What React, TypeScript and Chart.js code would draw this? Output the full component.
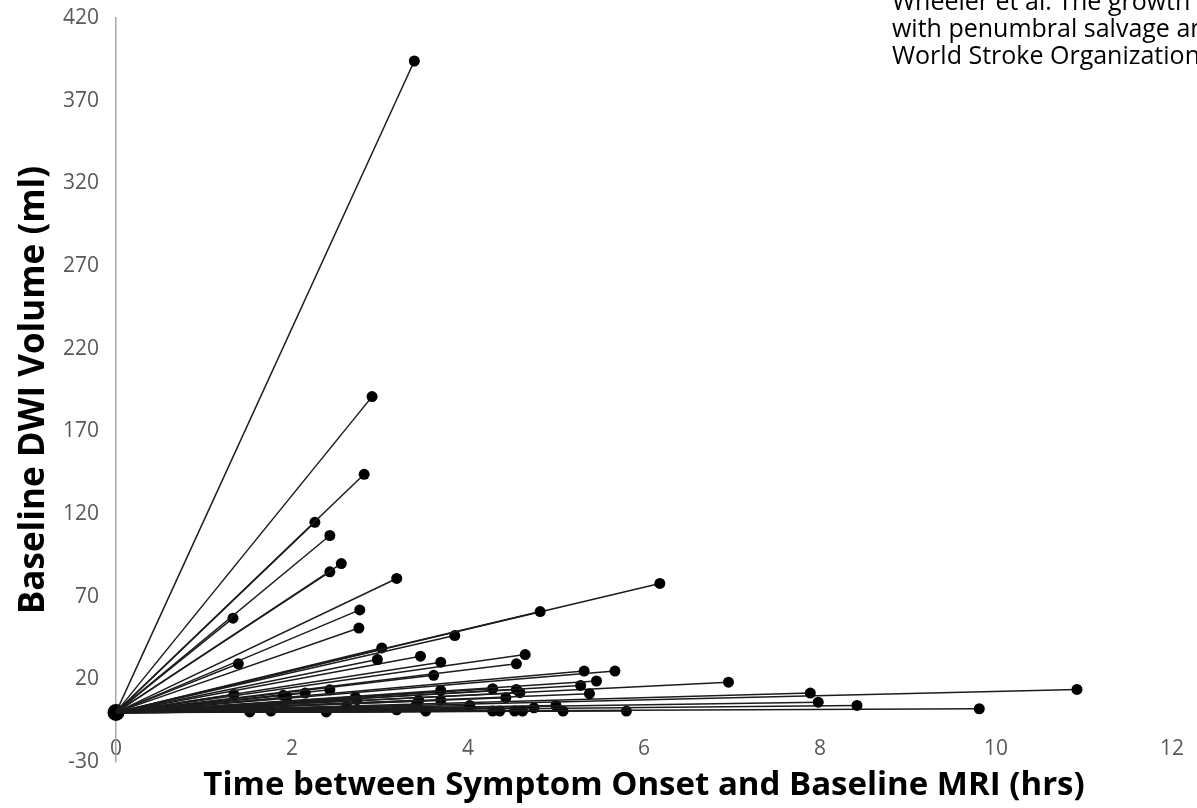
import React, { useEffect, useRef } from "react";
import { Chart, registerables } from "chart.js";

Chart.register(...registerables);

// Time between symptom onset and baseline MRI (hrs), one entry per patient
const onsetHours = [
  3.39, 2.91, 2.82, 2.26, 2.43, 2.56, 2.43, 3.19, 1.33, 2.77,
  2.76, 4.82, 6.18, 3.85, 1.39, 3.02, 2.97, 3.46, 3.69, 4.65,
  4.55, 3.61, 5.32, 5.67, 5.46, 5.28, 5.38, 6.96, 7.89, 7.98,
  8.42, 9.81, 10.92, 3.69, 4.28, 4.55, 4.59, 4.43, 3.69, 4.02,
  5.0, 3.52, 4.28, 4.36, 4.53, 4.62, 4.75, 5.08, 5.8, 3.44,
  1.34, 1.9, 1.94, 2.15, 2.43, 2.72, 1.52, 1.76, 2.39, 3.19,
  2.74, 2.62, 3.41,
];

// Baseline DWI volume (ml), same order as onsetHours
const dwiVolumes = [
  394, 191, 144, 115, 107, 90, 85, 81, 57, 62,
  51, 61, 78, 46.5, 29.4, 39, 32, 34, 30.4, 35,
  29.4, 22.4, 25, 25, 19, 16.3, 11.3, 18.3, 11.7, 6.2,
  4.2, 2.2, 13.9, 13.3, 14.3, 13.9, 11.9, 8.9, 7.3, 4.2,
  4.2, 0.8, 0.8, 0.8, 0.8, 0.8, 2.8, 0.8, 0.8, 7.3,
  10.9, 10.3, 9.2, 11.7, 13.7, 9.2, 0.3, 0.8, 0.3, 1.6,
  7.8, 3.6, 4.2,
];

const originPoint = [{ x: 0, y: 0 }];

const yTickValues = [-30, 20, 70, 120, 170, 220, 270, 320, 370, 420];
const xTickValues = [0, 2, 4, 6, 8, 10, 12];

const xTitle = "Time between Symptom Onset and Baseline MRI (hrs)";
const yTitle = "Baseline DWI Volume (ml)";

const captionLines = [
  "Wheeler et al. The growth rate",
  "with penumbral salvage and",
  "World Stroke Organization",
];

export default function App() {
  const canvasRef = useRef<HTMLCanvasElement | null>(null);

  useEffect(() => {
    if (!canvasRef.current) return;

    const segmentSets = onsetHours.map((t, i) => ({
      data: [
        { x: 0, y: 0 },
        { x: t, y: dwiVolumes[i] },
      ],
      showLine: true,
      borderColor: "#1c1c1c",
      borderWidth: 1.5,
      pointRadius: [0, 5.5],
      pointBackgroundColor: "#000",
      pointBorderColor: "#000",
      pointBorderWidth: 0,
      clip: false as const,
    }));

    const chart = new Chart(canvasRef.current, {
      type: "scatter",
      data: {
        datasets: [
          ...segmentSets,
          {
            data: originPoint,
            pointRadius: 8.5,
            pointBackgroundColor: "#000",
            pointBorderColor: "#000",
            pointBorderWidth: 0,
            clip: false as const,
          },
        ],
      },
      options: {
        responsive: false,
        animation: false,
        devicePixelRatio: 1,
        layout: { autoPadding: false, padding: { left: 13, right: 25, top: 18, bottom: 3 } },
        plugins: {
          legend: { display: false },
          tooltip: { enabled: false },
        },
        scales: {
          x: {
            type: "linear",
            min: 0,
            max: 12,
            afterBuildTicks: (s: any) => {
              s.ticks = xTickValues.map((v) => ({ value: v }));
            },
            afterFit: (s: any) => {
              s.height = 43;
              s.paddingLeft = 0;
              s.paddingRight = 0;
            },
            grid: { display: false, drawTicks: false },
            border: { display: false },
            ticks: {
              mirror: true,
              padding: 0,
              color: "#595959",
              font: { family: "'Open Sans'", size: 21 },
              maxRotation: 0,
            },
            title: {
              display: true,
              text: xTitle,
              color: "#000",
              padding: 0,
              font: { family: "'Open Sans'", size: 33, weight: "bold" },
            },
          },
          y: {
            type: "linear",
            min: -30,
            max: 420,
            afterBuildTicks: (s: any) => {
              s.ticks = yTickValues.map((v) => ({ value: v }));
            },
            afterFit: (s: any) => {
              s.width = 103;
              s.paddingTop = 0;
              s.paddingBottom = 0;
            },
            grid: {
              drawTicks: false,
              color: (c: any) => (c.tick && c.tick.value === 0 ? "#a6a6a6" : "rgba(0,0,0,0)"),
              lineWidth: 1.5,
            },
            border: { display: true, color: "#a6a6a6", width: 1.5 },
            ticks: {
              padding: 17,
              color: "#595959",
              font: { family: "'Open Sans'", size: 21 },
            },
            title: {
              display: true,
              text: yTitle,
              color: "#000",
              padding: 0,
              font: { family: "'Open Sans'", size: 35, weight: "bold" },
            },
          },
        },
      },
    });

    return () => {
      chart.destroy();
    };
  }, []);

  return (
    <div
      style={{
        position: "absolute",
        left: 0,
        top: 0,
        width: 1197,
        height: 808,
        overflow: "hidden",
        background: "#fff",
      }}
    >
      <canvas ref={canvasRef} width={1197} height={808} style={{ display: "block" }} />
      <div
        style={{
          position: "absolute",
          left: 892,
          top: -13,
          fontFamily: "'Open Sans', sans-serif",
          fontSize: 25,
          lineHeight: "27px",
          whiteSpace: "nowrap",
          color: "#000",
        }}
      >
        {captionLines.map((l, i) => (
          <div key={i}>{l}</div>
        ))}
      </div>
    </div>
  );
}
